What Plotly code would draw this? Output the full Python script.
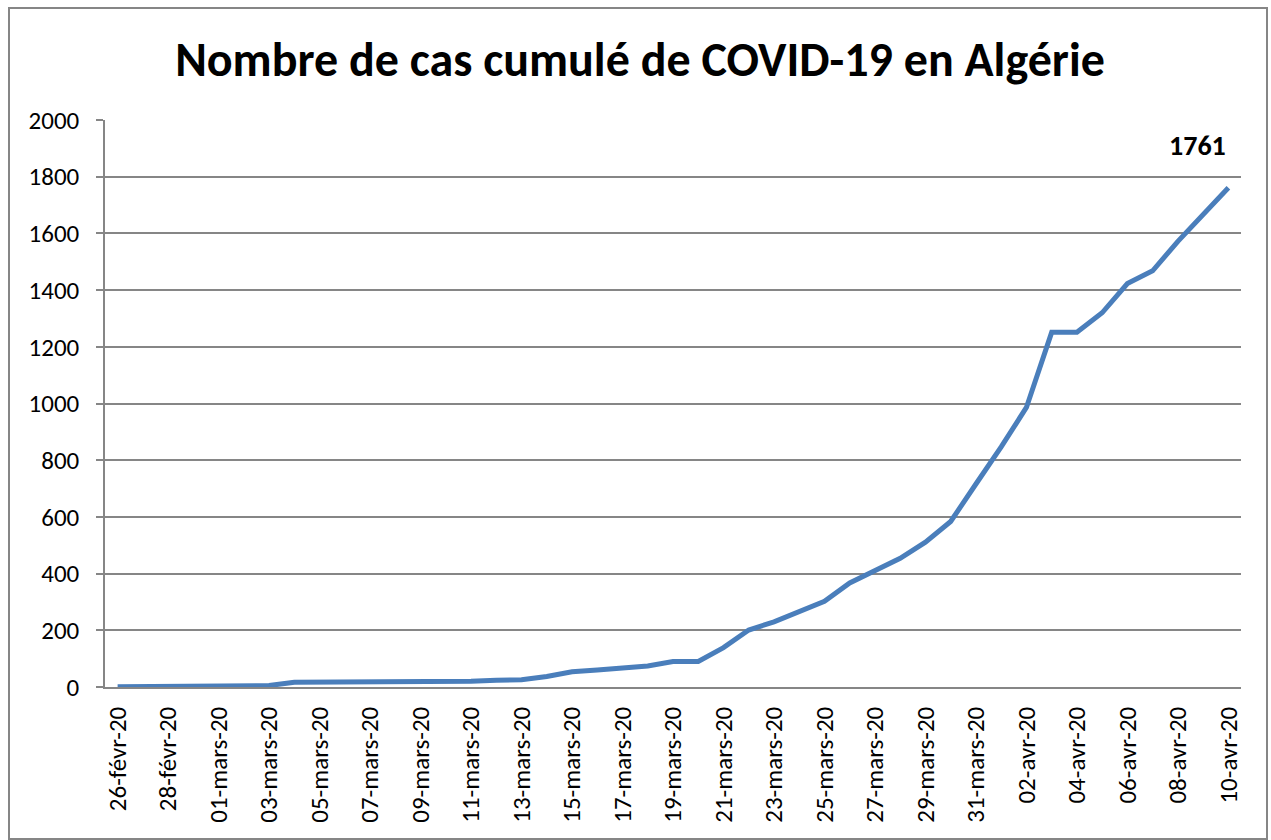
import plotly.graph_objects as go

dates = [
    "26-févr-20", "27-févr-20", "28-févr-20", "29-févr-20",
    "01-mars-20", "02-mars-20", "03-mars-20", "04-mars-20", "05-mars-20",
    "06-mars-20", "07-mars-20", "08-mars-20", "09-mars-20", "10-mars-20",
    "11-mars-20", "12-mars-20", "13-mars-20", "14-mars-20", "15-mars-20",
    "16-mars-20", "17-mars-20", "18-mars-20", "19-mars-20", "20-mars-20",
    "21-mars-20", "22-mars-20", "23-mars-20", "24-mars-20", "25-mars-20",
    "26-mars-20", "27-mars-20", "28-mars-20", "29-mars-20", "30-mars-20",
    "31-mars-20",
    "01-avr-20", "02-avr-20", "03-avr-20", "04-avr-20", "05-avr-20",
    "06-avr-20", "07-avr-20", "08-avr-20", "09-avr-20", "10-avr-20",
]
cases = [
    1, 1, 1, 1,
    1, 3, 5, 17, 17, 17, 19, 20, 20, 20, 20, 24, 26, 37, 54, 60, 67, 74, 90, 90,
    139, 201, 230, 264, 302, 367, 409, 454, 511, 584, 716,
    847, 986, 1251, 1251, 1320, 1423, 1468, 1572, 1666, 1761,
]
y_ticks = [0, 200, 400, 600, 800, 1000, 1200, 1400, 1600, 1800, 2000]
title_text = "Nombre de cas cumulé de COVID-19 en Algérie"

GRAY = "#868686"
FONT = "Carlito, Lato, sans-serif"
n = len(dates)

# plot area in pixels: x 105..1241, y 120..687
L, R, T, B = 105, 1241, 120, 687
PW, PH = R - L, B - T

fig = go.Figure()
fig.add_trace(go.Scatter(
    x=dates, y=cases, mode="lines",
    line=dict(color="#4A7EBB", width=5),
    hoverinfo="x+y", showlegend=False,
))

fig.add_annotation(
    x=dates[-1], y=cases[-1], text=str(cases[-1]),
    showarrow=False, xanchor="right", yanchor="middle",
    xshift=0, yshift=42,
    font=dict(family=FONT, size=28, color="black", weight=700),
)

fig.update_layout(
    width=1271, height=840,
    margin=dict(l=L, r=1271 - R, t=T, b=840 - B),
    paper_bgcolor="white", plot_bgcolor="white",
    title=dict(
        text=title_text, x=(640 - L) / PW, xref="paper", xanchor="center",
        y=1 - 59 / 840, yref="container", yanchor="middle",
        font=dict(family=FONT, size=48, color="black", weight=700),
    ),
    xaxis=dict(
        type="category", categoryorder="array", categoryarray=dates,
        range=[-0.5, n - 0.5],
        tickmode="array", tickvals=dates[::2], ticktext=dates[::2],
        tickangle=-90, ticks="outside", ticklen=8, tickcolor="rgba(0,0,0,0)",
        showgrid=False, showline=True, linecolor=GRAY, linewidth=1.5,
        tickfont=dict(family=FONT, size=25, color="black"),
        zeroline=False, fixedrange=True,
    ),
    xaxis2=dict(
        overlaying="x", anchor="y", side="bottom", type="linear",
        range=[-0.5, n - 0.5],
        tickmode="array", tickvals=[i - 0.5 for i in range(0, n, 2)],
        ticks="outside", ticklen=8, tickcolor=GRAY, tickwidth=1.5,
        showticklabels=False, showgrid=False, showline=False, zeroline=False,
    ),
    yaxis=dict(
        range=[0, 2000], tickmode="array", tickvals=y_ticks,
        ticks="outside", ticklen=7, tickcolor=GRAY, tickwidth=1.5,
        showgrid=True, gridcolor=GRAY, gridwidth=1.5,
        showline=True, linecolor=GRAY, linewidth=1.5,
        zeroline=False, ticklabelstandoff=12,
        tickfont=dict(family=FONT, size=25, color="black"),
    ),
    shapes=[dict(
        type="rect", xref="paper", yref="paper",
        x0=(9 - L) / PW, x1=(1267 - L) / PW,
        y0=(B - 839) / PH, y1=(B - 8) / PH,
        line=dict(color=GRAY, width=2), layer="below",
    )],
)

fig.write_html(
    "out.html",
    config={"displayModeBar": False},
    post_script="document.body.style.margin='0';document.body.style.overflow='hidden';",
)
